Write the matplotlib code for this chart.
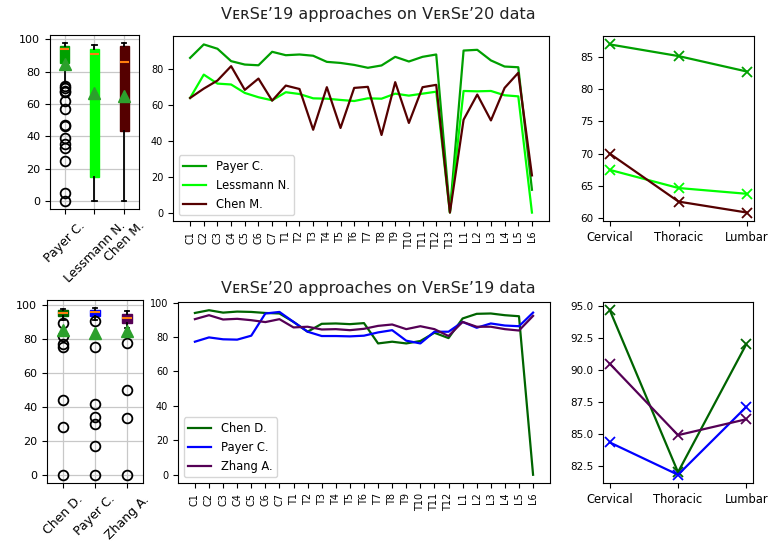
import matplotlib
matplotlib.use("Agg")
import matplotlib.pyplot as plt
from matplotlib.ticker import MultipleLocator, FormatStrFormatter

# ---- top row: VerSe'19 approaches on VerSe'20 data ----
top_methods = ["Payer C.", "Lessmann N.", "Chen M."]
top_colors = ["#00a000", "#00ff00", "#550000"]

top_med = [94.2, 91.0, 86.0]
top_q1 = [85.5, 15.1, 43.5]
top_q3 = [95.9, 94.2, 95.6]
top_whislo = [73.0, 0.0, 0.0]
top_whishi = [97.8, 96.3, 97.7]
top_mean = [84.9, 66.8, 65.2]
top_fliers = [
    [71.4, 69.8, 68.3, 67.3, 62.1, 56.9, 47.0, 46.2, 39.3, 35.2, 32.7, 24.8, 5.2, 0.0],
    [],
    [],
]

top_levels = ["C1", "C2", "C3", "C4", "C5", "C6", "C7",
              "T1", "T2", "T3", "T4", "T5", "T6", "T7", "T8", "T9", "T10",
              "T11", "T12", "T13", "L1", "L2", "L3", "L4", "L5", "L6"]
top_payer = [86.1, 93.6, 91.2, 84.3, 82.4, 82.0, 89.5,
             87.6, 88.0, 87.3, 83.9, 83.3, 82.2, 80.6, 81.9, 86.7, 84.1,
             86.7, 88.0, 0.5, 90.2, 90.6, 84.7, 81.3, 80.9, 12.7]
top_lessmann = [63.8, 76.8, 71.8, 71.3, 66.6, 64.2, 62.5,
                67.0, 66.0, 63.6, 63.4, 62.7, 62.1, 63.6, 63.4, 66.2, 65.1,
                66.2, 67.3, 0.0, 67.7, 67.5, 67.7, 65.3, 64.7, 0.0]
top_chen = [63.8, 69.0, 73.5, 81.5, 68.3, 74.6, 62.3,
            70.7, 68.8, 46.1, 69.8, 47.1, 69.4, 70.0, 43.2, 72.6, 49.9,
            69.8, 71.1, 0.0, 51.7, 65.7, 51.3, 69.4, 77.8, 20.7]

regions = ["Cervical", "Thoracic", "Lumbar"]
top_reg_payer = [86.9, 85.1, 82.7]
top_reg_lessmann = [67.5, 64.7, 63.8]
top_reg_chen = [70.0, 62.6, 60.9]

# ---- bottom row: VerSe'20 approaches on VerSe'19 data ----
bot_methods = ["Chen D.", "Payer C.", "Zhang A."]
bot_colors = ["#006400", "#0000ff", "#550055"]

bot_med = [95.7, 95.9, 92.6]
bot_q1 = [93.6, 93.9, 89.6]
bot_q3 = [97.1, 97.4, 95.1]
bot_whislo = [91.0, 91.5, 86.5]
bot_whishi = [97.8, 98.2, 96.7]
bot_mean = [85.4, 83.8, 84.8]
bot_fliers = [
    [89.6, 81.9, 77.0, 75.6, 43.9, 28.2, 0.0],
    [90.6, 75.2, 41.9, 34.1, 29.8, 17.0, 0.0],
    [78.0, 49.9, 33.3, 0.0],
]

bot_levels = ["C1", "C2", "C3", "C4", "C5", "C6", "C7",
              "T1", "T2", "T3", "T4", "T5", "T6", "T7", "T8", "T9", "T10",
              "T11", "T12", "L1", "L2", "L3", "L4", "L5", "L6"]
bot_chen = [94.0, 95.6, 94.2, 94.8, 94.6, 94.0, 93.7,
            88.8, 83.1, 87.7, 87.9, 87.5, 88.1, 76.3, 77.3, 76.3, 77.7,
            82.5, 79.4, 90.8, 93.5, 93.7, 92.7, 92.1, 0.0]
bot_payer = [77.3, 79.8, 78.7, 78.5, 80.8, 93.7, 94.6,
             88.8, 83.1, 80.6, 80.6, 80.4, 80.8, 82.7, 84.0, 77.9, 76.3,
             83.1, 83.1, 88.8, 85.4, 87.9, 86.7, 86.3, 94.2]
bot_zhang = [90.4, 92.7, 90.2, 90.6, 89.8, 88.7, 90.4,
             85.6, 86.0, 84.4, 84.6, 84.0, 84.8, 86.5, 87.3, 84.6, 86.3,
             84.6, 80.6, 88.8, 86.0, 86.0, 84.6, 83.8, 92.3]

bot_reg_chen = [94.64, 82.0, 91.97]
bot_reg_payer = [84.32, 81.8, 87.09]
bot_reg_zhang = [90.46, 84.89, 86.13]


def draw_boxes(ax, names, colors, med, q1, q3, lo, hi, mean, fliers):
    stats = []
    for i in range(len(names)):
        stats.append(dict(label=names[i], med=med[i], q1=q1[i], q3=q3[i],
                          whislo=lo[i], whishi=hi[i], mean=mean[i],
                          fliers=fliers[i]))
    bp = ax.bxp(stats, patch_artist=True, showmeans=True,
                medianprops=dict(color="#ff7f0e", linewidth=1.5),
                whiskerprops=dict(color="black", linewidth=1.3),
                capprops=dict(color="black", linewidth=1.3),
                meanprops=dict(marker="^", markerfacecolor="#2ca02c",
                               markeredgecolor="#2ca02c", markersize=8),
                flierprops=dict(marker="o", markerfacecolor="none",
                                markeredgecolor="black", markersize=7,
                                markeredgewidth=1.3))
    for patch, c in zip(bp["boxes"], colors):
        patch.set_facecolor(c)
        patch.set_edgecolor(c)
    ax.grid(True, color="#c8c8c8", linewidth=0.9)
    ax.set_axisbelow(True)
    ax.tick_params(axis="y", labelsize=8)
    ax.tick_params(axis="x", labelsize=9, labelrotation=45)


def draw_levels(ax, levels, series, names, colors, yticks):
    x = list(range(len(levels)))
    for s, n, c in zip(series, names, colors):
        ax.plot(x, s, color=c, linewidth=1.6, label=n)
    ax.set_xticks(x)
    ax.set_xticklabels(levels, rotation=90, fontsize=7)
    ax.set_yticks(yticks)
    ax.tick_params(axis="y", labelsize=7)
    ax.legend(loc="lower left", fontsize=8.3)


def draw_regions(ax, series, colors):
    x = list(range(len(regions)))
    for s, c in zip(series, colors):
        ax.plot(x, s, color=c, linewidth=1.6, marker="x", markersize=7,
                markeredgewidth=1.3)
    ax.set_xticks(x)
    ax.set_xticklabels(regions, fontsize=8.3)
    ax.tick_params(axis="y", labelsize=7.5)


fig = plt.figure(figsize=(7.8, 5.45), dpi=100)

ax1 = fig.add_axes([0.0641, 0.6165, 0.1141, 0.3193])
ax2 = fig.add_axes([0.2218, 0.5945, 0.4821, 0.3394])
ax3 = fig.add_axes([0.7731, 0.5945, 0.1936, 0.3394])
ax4 = fig.add_axes([0.0603, 0.1138, 0.1231, 0.3358])
ax5 = fig.add_axes([0.2282, 0.1138, 0.4769, 0.3321])
ax6 = fig.add_axes([0.7731, 0.1138, 0.1923, 0.3321])

draw_boxes(ax1, top_methods, top_colors, top_med, top_q1, top_q3,
           top_whislo, top_whishi, top_mean, top_fliers)
draw_levels(ax2, top_levels, [top_payer, top_lessmann, top_chen],
            top_methods, top_colors, [0, 20, 40, 60, 80])
draw_regions(ax3, [top_reg_payer, top_reg_lessmann, top_reg_chen], top_colors)

draw_boxes(ax4, bot_methods, bot_colors, bot_med, bot_q1, bot_q3,
           bot_whislo, bot_whishi, bot_mean, bot_fliers)
draw_levels(ax5, bot_levels, [bot_chen, bot_payer, bot_zhang],
            bot_methods, bot_colors, [0, 20, 40, 60, 80, 100])
draw_regions(ax6, [bot_reg_chen, bot_reg_payer, bot_reg_zhang], bot_colors)
ax6.yaxis.set_major_locator(MultipleLocator(2.5))
ax6.yaxis.set_major_formatter(FormatStrFormatter("%.1f"))

fig.text(0.485, 0.974, "V\u1d07\u0280S\u1d07\u201919 approaches on V\u1d07\u0280S\u1d07\u201920 data",
         ha="center", va="center", fontsize=11.5, color="#222222")
fig.text(0.485, 0.471, "V\u1d07\u0280S\u1d07\u201920 approaches on V\u1d07\u0280S\u1d07\u201919 data",
         ha="center", va="center", fontsize=11.5, color="#222222")

fig.savefig("out.png", dpi=100)
